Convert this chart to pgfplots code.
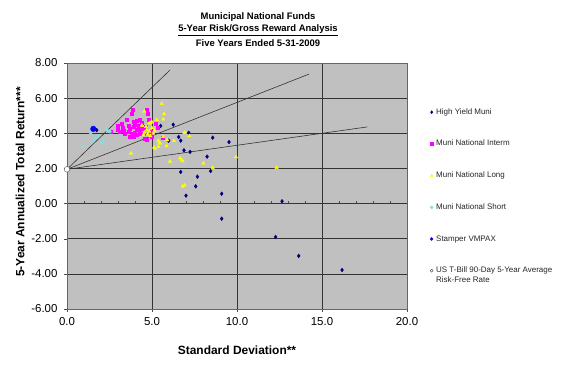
\documentclass[border=0pt]{standalone}
\usepackage{pgfplots}
\pgfplotsset{compat=1.18}
\usepackage{fontspec}
\setmainfont{Liberation Sans}
\definecolor{silverbg}{RGB}{192,192,192}
\definecolor{hyNavy}{RGB}{0,0,128}
\definecolor{imMag}{RGB}{255,0,255}
\definecolor{lgYel}{RGB}{255,255,0}
\definecolor{shCyan}{RGB}{130,225,225}
\definecolor{stBlue}{RGB}{0,0,255}
\begin{document}
\begin{tikzpicture}
\useasboundingbox (0,0) rectangle (576bp,365bp);
\fill[white] (0,0) rectangle (576bp,365bp);
\begin{axis}[
  at={(67bp,56bp)}, anchor=south west,
  width=340bp, height=246bp, scale only axis,
  xmin=0, xmax=20, ymin=-6, ymax=8,
  xtick={0,5,10,15,20}, ytick={-6,-4,-2,0,2,4,6,8},
  grid=major, major grid style={black!80, line width=0.6bp},
  axis background/.style={fill=silverbg},
  axis line style={black!60, line width=0.6bp},
  tick align=outside, tick pos=left, major tick length=3bp,
  tick style={black!70},
  xticklabel={\pgfmathprintnumber[fixed,fixed zerofill,precision=1,assume math mode=true]{\tick}},
  yticklabel={\pgfmathprintnumber[fixed,fixed zerofill,precision=2,assume math mode=true]{\tick}},
  tick label style={font=\fontsize{11.5}{13}\selectfont, text=black},
  xticklabel style={yshift=-2bp},
  yticklabel style={xshift=-3bp},
  legend cell align=left,
  legend image code/.code={\draw[mark repeat=2,mark phase=2] plot coordinates {(0bp,0bp)(3bp,0bp)(6bp,0bp)};},
  legend image post style={mark size=1.5bp},
  legend style={at={(1.0676,0.817)}, anchor=north west, draw=none, fill=none,
     inner sep=0pt, column sep=3bp, row sep=23.7bp,
     font=\fontsize{8}{9.6}\selectfont,
     nodes={inner sep=0pt, text height=6bp, text depth=2bp, text=black!85}},
]
% risk-return lines from the risk-free point
\addplot[black!80, line width=0.6bp, forget plot] coordinates {(0,1.95) (6.06,7.6)};
\addplot[black!80, line width=0.6bp, forget plot] coordinates {(0,1.95) (14.24,7.37)};
\addplot[black!80, line width=0.6bp, forget plot] coordinates {(0,1.95) (17.65,4.36)};
% minor ticks on the zero line
\addplot[only marks, mark=|, mark size=1.3bp, mark options={line width=0.4bp}, black!70, forget plot] coordinates {
(1,0.08)(2,0.08)(3,0.08)(4,0.08)(6,0.08)(7,0.08)(8,0.08)(9,0.08)(11,0.08)(12,0.08)(13,0.08)(14,0.08)(16,0.08)(17,0.08)(18,0.08)(19,0.08)};
% High Yield Muni
\addplot[only marks, mark=diamond*, mark size=1.9bp, color=hyNavy] coordinates {
(5.51,4.42)(6.25,4.49)(6.57,3.79)(6.69,3.58)(5.98,3.58)(7.16,4.03)(8.57,3.75)(9.53,3.50)
(6.88,3.03)(7.24,2.94)(8.24,2.67)(8.45,1.85)(6.69,1.80)(7.67,1.53)(7.57,0.98)(7.00,0.45)
(9.10,0.56)(9.10,-0.86)(12.65,0.13)(12.27,-1.90)(13.63,-2.98)(16.18,-3.78)(1.75,4.18)};
\addlegendentry{High Yield Muni}
% Muni National Interm
\addplot[only marks, mark=square*, mark size=1.5bp, color=imMag] coordinates {
(3.88,5.35)(4.70,5.35)(4.75,5.12)(3.82,5.12)(4.29,4.80)(3.90,4.66)(3.51,4.76)(3.22,4.57)
(2.96,4.43)(2.57,4.11)(3.12,4.09)(3.35,4.15)(3.71,4.28)(3.90,4.37)(4.10,4.19)(4.29,4.28)
(3.80,4.00)(4.10,3.90)(4.49,4.00)(3.71,3.81)(4.59,3.70)(5.24,4.55)(5.31,4.30)(4.98,4.09)
(4.69,3.62)(4.00,4.50)(4.20,4.45)(4.40,4.60)(3.60,4.45)(3.30,4.30)(4.50,4.25)(4.00,4.05)
(4.30,3.95)(3.60,4.10)(3.95,3.80)(4.25,4.10)(4.80,4.75)(4.60,4.35)(5.00,3.80)(4.10,4.70)
(3.00,4.20)(4.90,4.00)(3.40,3.95)(5.63,3.77)};
\addlegendentry{Muni National Interm}
% Muni National Long
\addplot[only marks, mark=triangle*, mark size=1.9bp, color=lgYel] coordinates {
(5.57,5.68)(5.71,5.10)(5.66,4.80)(5.28,4.76)(4.98,4.66)(5.08,4.00)(5.66,3.81)(5.90,3.62)
(6.29,3.58)(6.90,4.03)(7.19,3.85)(5.43,3.43)(5.12,3.20)(5.86,3.28)(6.06,2.40)(6.65,2.58)
(6.80,2.43)(8.02,2.29)(9.94,2.65)(8.57,2.04)(6.80,0.98)(6.92,1.04)(12.33,2.04)(3.76,2.86)
(5.18,3.13)(4.84,4.57)(5.47,3.43)(4.65,4.38)(4.92,4.60)(5.37,3.24)(6.94,4.04)(6.75,2.48)
(4.70,4.20)(4.85,4.10)(5.00,4.30)(4.75,3.95)(4.90,3.85)(5.15,4.15)(4.55,4.05)(4.40,4.45)
(4.50,3.90)(4.55,5.25)(5.37,3.58)};
\addlegendentry{Muni National Long}
% Muni National Short
\addplot[only marks, mark=*, mark size=1.5bp, color=shCyan] coordinates {
(1.65,3.72)(1.84,3.85)(2.33,4.19)(1.39,4.00)(2.14,3.62)(2.53,4.09)(2.04,3.43)(0.96,3.24)
(2.45,4.12)(1.55,3.55)};
\addlegendentry{Muni National Short}
% Stamper VMPAX
\addplot[only marks, mark=*, mark size=2.8bp, color=stBlue] coordinates {(1.55,4.25)};
\addlegendentry{Stamper VMPAX}
% Risk-free rate
\addplot[only marks, mark=*, mark size=2.8bp, draw=black!70, fill=white, mark options={fill=white, draw=black!70}] coordinates {(0,1.95)};
\addlegendentry{\begin{tabular}[t]{@{}l@{}}US T-Bill 90-Day 5-Year Average\\Risk-Free Rate\end{tabular}}
\end{axis}
\node[font=\bfseries\fontsize{9.5}{11}\selectfont] at (258bp,348bp) {Municipal National Funds};
\node[font=\bfseries\fontsize{9.5}{11}\selectfont] at (258bp,335bp) {\underline{5-Year Risk/Gross Reward Analysis}};
\node[font=\bfseries\fontsize{9.5}{11}\selectfont] at (258bp,322bp) {Five Years Ended 5-31-2009};
\node[font=\bfseries\fontsize{12}{14}\selectfont] at (237bp,15bp) {Standard Deviation**};
\node[font=\bfseries\fontsize{12}{14}\selectfont, rotate=90] at (20bp,183bp) {5-Year Annualized Total Return***};
\end{tikzpicture}
\end{document}
